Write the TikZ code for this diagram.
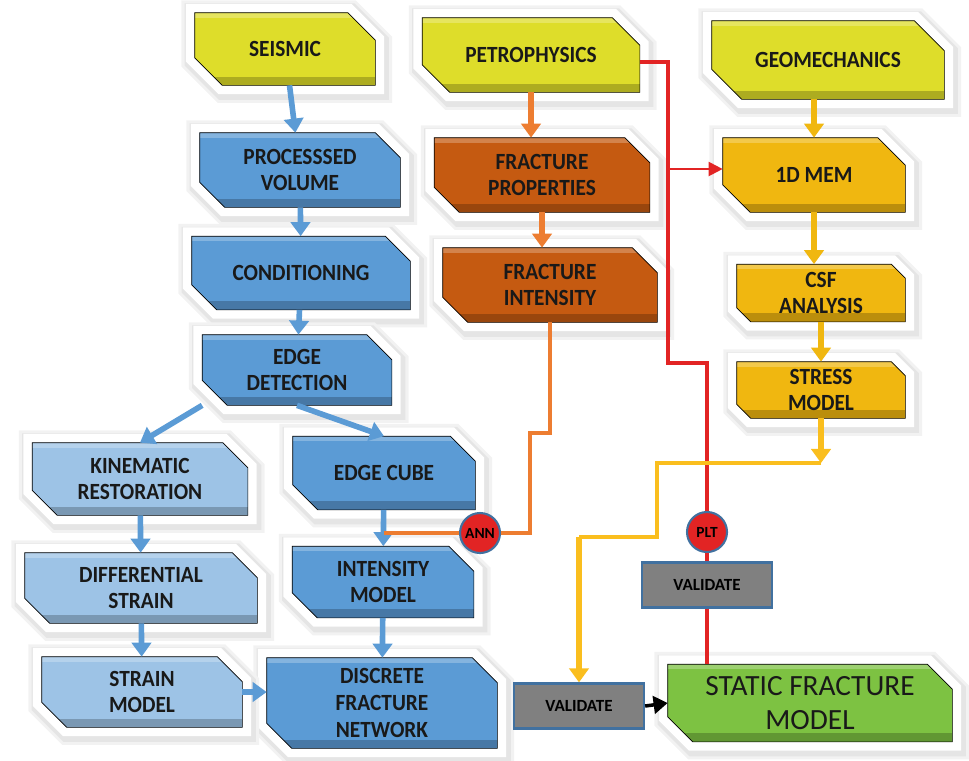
\documentclass[tikz,border=0pt]{standalone}
\usepackage{fontspec}
\setmainfont{Carlito}
\newfontfamily\boxfont{Carlito}[FakeStretch=0.92]
\usetikzlibrary{arrows.meta, backgrounds}

\definecolor{srcyellow}{RGB}{222,221,42}
\definecolor{seisblue}{RGB}{91,155,213}
\definecolor{strainblue}{RGB}{157,195,230}
\definecolor{fracbrown}{RGB}{197,90,17}
\definecolor{memgold}{RGB}{240,183,16}
\definecolor{modelgreen}{RGB}{125,194,66}
\definecolor{linkred}{RGB}{226,36,36}
\definecolor{linkorange}{RGB}{237,125,49}
\definecolor{linkgold}{RGB}{250,190,30}
\definecolor{rimblue}{RGB}{65,113,160}
\definecolor{valgrey}{RGB}{128,128,128}

\tikzset{
  box/.style={rectangle, inner sep=0pt, align=center, text=black!90,
    font=\boxfont\bfseries\fontsize{13.2}{15.3}\selectfont},
  halo/.style={line join=miter,
    preaction={draw=black!5, line width=17pt, transform canvas={xshift=1pt,yshift=-1.5pt}},
    preaction={draw=black!10, line width=13.5pt, transform canvas={xshift=1pt,yshift=-1.5pt}},
    preaction={draw=white, line width=10pt},
    path picture={
      \fill[black,opacity=.22] ([yshift=5pt]path picture bounding box.south west) rectangle (path picture bounding box.south east);
      \fill[white,opacity=.25] (path picture bounding box.north west) rectangle ([yshift=-3pt]path picture bounding box.north east);
    }},
  valbox/.style={rectangle, fill=valgrey, draw=rimblue, line width=1.3pt,
    minimum width=2.6cm, minimum height=0.9cm, font=\bfseries\fontsize{9.7}{11}\selectfont},
  dot/.style={circle, fill=linkred, draw=rimblue, line width=1.2pt, minimum size=0.8cm,
    inner sep=0pt, font=\bfseries\fontsize{8.8}{10}\selectfont},
  flow/.style={line width=3.2pt, -{Triangle[width=11pt,length=8pt]}},
  link/.style={line width=2.8pt}
}

\begin{document}
\begin{tikzpicture}[x=1cm, y=-1cm]
  \useasboundingbox (0,0) rectangle (19.38,15.2);

  % sources
  \node[box, minimum width=3.6cm, minimum height=1.44cm] (seismic) at (5.70,0.98) {SEISMIC};
  \node[box, minimum width=4.34cm, minimum height=1.48cm] (petro) at (10.62,1.10) {PETROPHYSICS};
  \node[box, minimum width=4.64cm, minimum height=1.56cm] (geomech) at (16.56,1.20) {GEOMECHANICS};

  % seismic branch
  \node[box, minimum width=4.0cm, minimum height=1.48cm] (procvol) at (6.00,3.40) {PROCESSSED\\VOLUME};
  \node[box, minimum width=4.36cm, minimum height=1.46cm] (cond) at (6.02,5.46) {CONDITIONING};
  \node[box, minimum width=3.78cm, minimum height=1.40cm] (edgedet) at (5.94,7.40) {EDGE\\DETECTION};
  \node[box, minimum width=3.64cm, minimum height=1.46cm] (edgecube) at (7.68,9.46) {EDGE CUBE};
  \node[box, minimum width=3.62cm, minimum height=1.42cm] (intmodel) at (7.66,11.64) {INTENSITY\\MODEL};
  \node[box, minimum width=4.60cm, minimum height=1.80cm] (dfn) at (7.64,14.06) {DISCRETE\\FRACTURE\\NETWORK};

  \node[box, minimum width=4.30cm, minimum height=1.44cm] (kinem) at (2.80,9.58) {KINEMATIC\\RESTORATION};
  \node[box, minimum width=4.64cm, minimum height=1.40cm] (diffstrain) at (2.82,11.76) {DIFFERENTIAL\\STRAIN};
  \node[box, minimum width=4.00cm, minimum height=1.40cm] (strainmodel) at (2.84,13.84) {STRAIN\\MODEL};

  % petrophysics branch
  \node[box, minimum width=4.30cm, minimum height=1.48cm] (fracprop) at (10.84,3.50) {FRACTURE\\PROPERTIES};
  \node[box, minimum width=4.28cm, minimum height=1.48cm] (fracint) at (11.00,5.70) {FRACTURE\\INTENSITY};

  % geomechanics branch
  \node[box, minimum width=3.64cm, minimum height=1.48cm] (mem) at (16.28,3.50) {1D MEM};
  \node[box, minimum width=3.36cm, minimum height=1.14cm] (csf) at (16.42,5.86) {CSF\\ANALYSIS};
  \node[box, minimum width=3.36cm, minimum height=1.12cm] (stress) at (16.42,7.80) {STRESS\\MODEL};

  % output
  \node[box, minimum width=5.68cm, minimum height=1.54cm,
    font=\fontsize{16.7}{19}\selectfont] (static) at (16.20,14.06) {STATIC FRACTURE\\MODEL};
  \node[valbox] (valtop) at (14.14,11.70) {VALIDATE};
  \node[valbox] (valbot) at (11.58,14.12) {VALIDATE};
  \node[dot] (ann) at (9.60,10.66) {ANN};
  \node[dot] (plt) at (14.14,10.64) {PLT};

  % snipped box outlines behind the labels
  \begin{scope}[on background layer]
    \foreach \n/\c/\s in {seismic/srcyellow/0.55, petro/srcyellow/0.55, geomech/srcyellow/0.6,
        procvol/seisblue/0.5, cond/seisblue/0.5, edgedet/seisblue/0.5, edgecube/seisblue/0.5,
        intmodel/seisblue/0.5, dfn/seisblue/0.5, kinem/strainblue/0.5, diffstrain/strainblue/0.5,
        strainmodel/strainblue/0.5, fracprop/fracbrown/0.5, fracint/fracbrown/0.5,
        mem/memgold/0.55, csf/memgold/0.28, stress/memgold/0.28, static/modelgreen/0.5}
      \draw[halo, fill=\c] (\n.north west) -- ([xshift=-\s cm]\n.north east)
        -- ([yshift=-\s cm]\n.north east) -- (\n.south east)
        -- ([xshift=\s cm]\n.south west) -- ([yshift=\s cm]\n.south west) -- cycle;
  \end{scope}

  \coordinate (redbend) at (13.36,7.26);
  \coordinate (redtap) at (13.36,3.38);
  \coordinate (orbend) at (10.60,8.66);
  \coordinate (goldbend) at (13.14,9.26);
  \coordinate (golddrop) at (11.58,10.74);

  % blue flow
  \draw[flow, seisblue] (seismic) -- (procvol);
  \draw[flow, seisblue] (procvol) -- (cond);
  \draw[flow, seisblue] (cond) -- (edgedet);
  \draw[flow, seisblue] (edgedet.south west) -- (kinem.north);
  \draw[flow, seisblue] (edgedet.south) -- (edgecube.north);
  \draw[flow, seisblue] (kinem) -- (diffstrain);
  \draw[flow, seisblue] (diffstrain) -- (strainmodel);
  \draw[flow, seisblue] (edgecube) -- (intmodel);
  \draw[flow, seisblue] (intmodel) -- (dfn);
  \draw[flow, seisblue] (strainmodel.east) -- (strainmodel.east -| dfn.west);

  % petrophysics and geomechanics flow
  \draw[flow, linkorange] (petro.south) -- (petro.south |- fracprop.north);
  \draw[flow, linkorange] (fracprop.south) -- (fracprop.south |- fracint.north);
  \draw[flow, memgold] (geomech.south -| mem.north) -- (mem.north);
  \draw[flow, memgold] (mem.south) -- (mem.south |- csf.north);
  \draw[flow, memgold] (csf) -- (stress);

  % links
  \draw[link, linkorange] (fracint.south) |- (orbend) |- (ann.east);
  \draw[link, linkorange] (ann.west) -- (ann.west -| edgecube.south);
  \draw[link, linkred] ([yshift=-4pt]petro.east) -| (redbend) -| (plt.north);
  \draw[line width=1.2pt, linkred, -{Triangle[width=8pt,length=8pt]}] (redtap) -- (redtap -| mem.west);
  \draw[link, linkred] (plt.south) -- (valtop.north);
  \draw[link, linkred] (valtop.south) -- (valtop.south |- static.north);
  \draw[link, linkgold] (stress.south |- goldbend) -- (goldbend) |- (golddrop);
  \draw[flow, linkgold] (golddrop) -- (valbot.north);
  \draw[flow, linkgold] (stress.south) -- (stress.south |- goldbend);
  \draw[line width=2pt, -{Triangle[width=10pt,length=8pt]}] (valbot.east) -- (static.west);
\end{tikzpicture}
\end{document}
